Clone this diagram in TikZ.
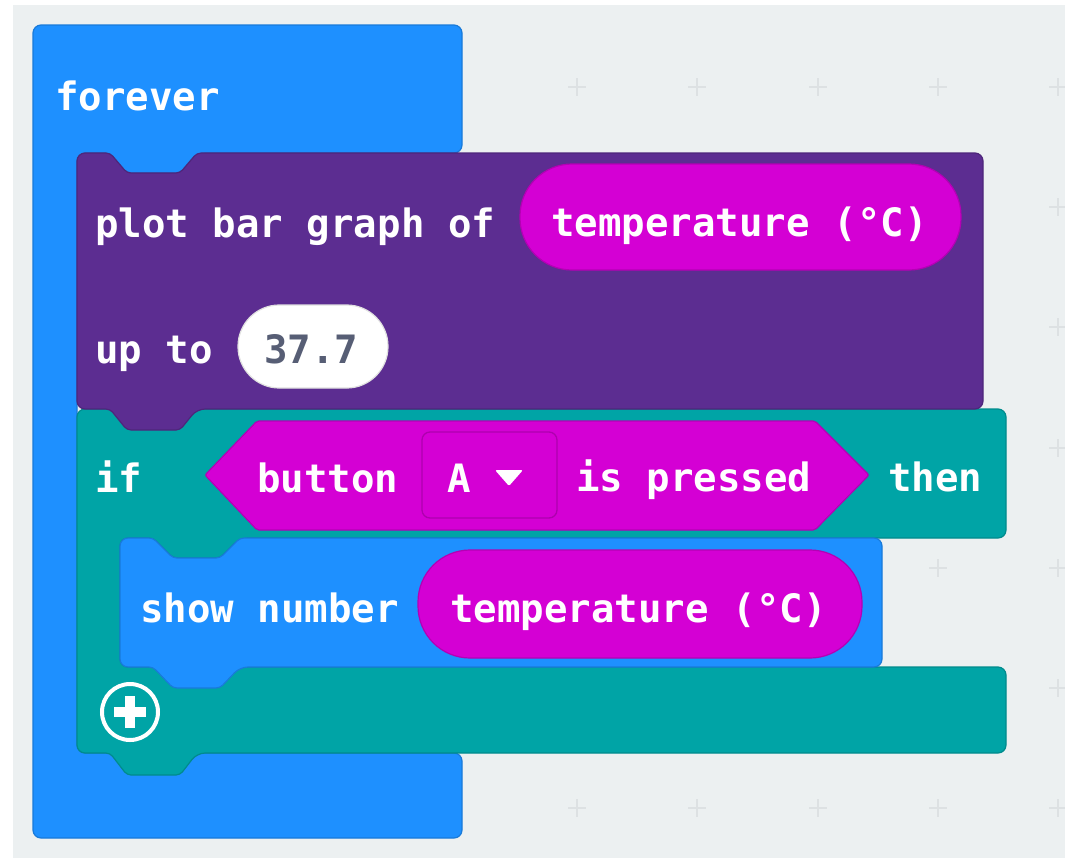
\documentclass[tikz,border=0pt]{standalone}
\usepackage{fontspec}
\newfontfamily\blockfont{DejaVu Sans Mono}
\definecolor{workspace}{HTML}{ECF0F1}
\definecolor{loopblue}{HTML}{1E90FF}
\definecolor{ledpurple}{HTML}{5C2D91}
\definecolor{logicteal}{HTML}{00A4A6}
\definecolor{inputpink}{HTML}{D400D4}
\definecolor{gridmark}{HTML}{DDE1E3}
\definecolor{numgrey}{HTML}{575E75}
\tikzset{
  blockshape/.style={line width=0.9pt, rounded corners=6pt},
  pill/.style={line width=0.9pt, rounded corners=39pt},
  lbl/.style={font={\blockfont\bfseries\fontsize{29.3pt}{31pt}\selectfont},
              text=white, inner sep=0pt, anchor=base west},
  gridplus/.style={draw=gridmark, line width=1.5pt},
}
\begin{document}
\begin{tikzpicture}[x=0.75pt, y=-0.75pt]
  \useasboundingbox (0,0) rectangle (1065,858);
  % workspace
  \fill[white] (0,0) rectangle (1065,858);
  \fill[workspace] (13,5) rectangle (1065,858);
  \foreach \gx in {577,697,818,938,1058}
    \foreach \gy in {87,207,327,448,568,688,808}
      \draw[gridplus] ({\gx-9},\gy) -- ({\gx+9},\gy) (\gx,{\gy-9}) -- (\gx,{\gy+9});

  % forever loop
  \draw[blockshape, fill=loopblue, draw=loopblue!85!black]
    (33,25) -- (462,25) -- (462,153) -- (197,153)
    [rounded corners=3pt] -- (180,173) -- (127,173) -- (110,153)
    [rounded corners=6pt] -- (77,153) -- (77,753) -- (462,753) -- (462,838) -- (33,838) -- cycle;

  % if / then block
  \draw[blockshape, fill=logicteal, draw=logicteal!85!black]
    (77,409) -- (1006,409) -- (1006,538) -- (240,538)
    [rounded corners=3pt] -- (220,558) -- (173,558) -- (153,538)
    [rounded corners=6pt] -- (120,538) -- (120,667) -- (1006,667) -- (1006,753) -- (197,753)
    [rounded corners=3pt] -- (180,775) -- (127,775) -- (110,753)
    [rounded corners=6pt] -- (77,753) -- cycle;

  % plot bar graph block
  \draw[blockshape, fill=ledpurple, draw=ledpurple!85!black]
    (77,153) [rounded corners=3pt] -- (110,153) -- (127,173) -- (180,173) -- (197,153)
    [rounded corners=6pt] -- (983,153) -- (983,409) -- (197,409)
    [rounded corners=3pt] -- (180,430) -- (127,430) -- (110,409)
    [rounded corners=6pt] -- (77,409) -- cycle;

  % show number block
  \draw[blockshape, fill=loopblue, draw=loopblue!85!black]
    (120,538) [rounded corners=3pt] -- (153,538) -- (173,558) -- (220,558) -- (240,538)
    [rounded corners=6pt] -- (882,538) -- (882,667) -- (240,667)
    [rounded corners=3pt] -- (220,688) -- (173,688) -- (153,667)
    [rounded corners=6pt] -- (120,667) -- cycle;

  % reporter pills
  \draw[pill, fill=inputpink, draw=inputpink!85!black] (520,164) rectangle (961,270);
  \draw[pill, fill=white, draw=black!12, rounded corners=31pt] (238,305) rectangle (388,388);
  \draw[pill, fill=inputpink, draw=inputpink!85!black] (418,550) rectangle (862,658);

  % boolean condition
  \draw[fill=inputpink, draw=inputpink!85!black, line width=0.9pt, rounded corners=1.5pt]
    (205,475) -- (257,421) -- (815,421) -- (869,475) -- (815,530) -- (257,530) -- cycle;
  \draw[fill=inputpink, draw=inputpink!82!black, line width=1pt, rounded corners=6pt]
    (422,432) rectangle (557,518);
  \fill[white, rounded corners=1.5pt] (495,470) -- (523,470) -- (509,486) -- cycle;

  % add-clause button
  \draw[white, line width=3pt] (130,712) circle [radius=21pt];
  \fill[white] (114,707) rectangle (146,717);
  \fill[white] (125,696) rectangle (135,728);

  % labels
  \node[lbl] (tforever) at (55,110) {forever};
  \node[lbl] (tplot) at (95,237) {plot bar graph of};
  \node[lbl] (ttemp1) at (551,236) {temperature (°C)};
  \node[lbl] (tupto) at (95,363) {up to};
  \node[lbl, text=numgrey] (tnum) at (264,363) {37.7};
  \node[lbl] (tif) at (95,492) {if};
  \node[lbl] (tbutton) at (257,492) {button};
  \node[lbl] (tA) at (447,492) {A};
  \node[lbl] (tpressed) at (576,491) {is pressed};
  \node[lbl] (tthen) at (888,491) {then};
  \node[lbl] (tshow) at (140,622) {show number};
  \node[lbl] (ttemp2) at (450,622) {temperature (°C)};
\end{tikzpicture}
\end{document}
